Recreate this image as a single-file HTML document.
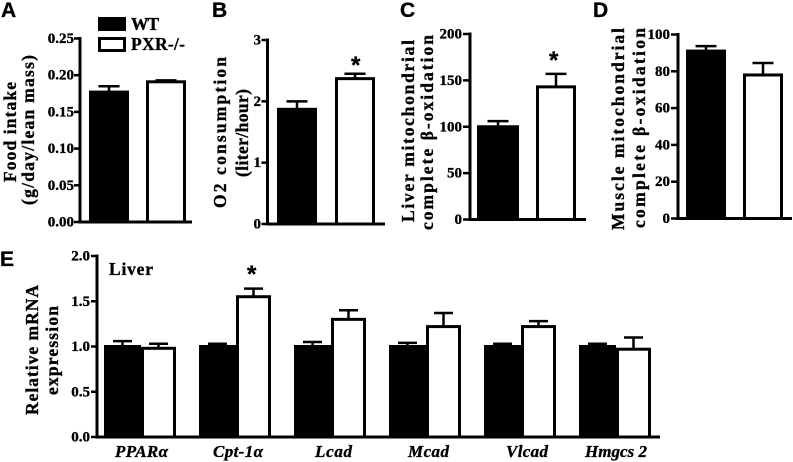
<!DOCTYPE html>
<html lang="en">
<head>
<meta charset="utf-8">
<title>PXR knockout metabolic bar charts</title>
<style>
html,body{margin:0;padding:0;background:#fff;width:793px;height:462px;overflow:hidden}
svg{display:block}
text{font-family:"Liberation Serif",serif;font-weight:bold;fill:#000;stroke:#000;stroke-width:.35px}
.letter{font-family:"Liberation Sans",sans-serif;font-size:21px}
.tick{font-size:15px}
.lab{font-size:17.5px}
.xl{font-size:17px;font-style:italic}
.star{font-size:24px;font-family:"Liberation Sans",sans-serif}
</style>
</head>
<body>
<svg id="fig" width="793" height="462" viewBox="0 0 793 462" xmlns="http://www.w3.org/2000/svg">
  <text class="letter" x="1" y="17">A</text>
  <text class="letter" x="212" y="17">B</text>
  <text class="letter" x="400" y="17">C</text>
  <text class="letter" x="593" y="17">D</text>
  <text class="letter" x="0" y="266">E</text>

  <rect x="98" y="17" width="28" height="14" fill="#000"/>
  <rect x="99.5" y="38.5" width="25" height="12" fill="#fff" stroke="#000" stroke-width="3"/>
  <text class="lab" x="131" y="30" textLength="28" lengthAdjust="spacing">WT</text>
  <text class="lab" x="131" y="50" textLength="54" lengthAdjust="spacing">PXR-/-</text>

  <text class="lab" transform="translate(16,182) rotate(-90)" textLength="100" lengthAdjust="spacing">Food intake</text>
  <text class="lab" transform="translate(34,205) rotate(-90)" textLength="150" lengthAdjust="spacing">(g/day/lean mass)</text>
  <text class="lab" transform="translate(226,208) rotate(-90)" textLength="151" lengthAdjust="spacing">O2 consumption</text>
  <text class="lab" transform="translate(248,177) rotate(-90)" textLength="88" lengthAdjust="spacing">(liter/hour)</text>
  <text class="lab" transform="translate(414,222) rotate(-90)" textLength="182" lengthAdjust="spacing">Liver mitochondrial</text>
  <text class="lab" transform="translate(433,230) rotate(-90)" textLength="195" lengthAdjust="spacing">complete β-oxidation</text>
  <text class="lab" transform="translate(624,230) rotate(-90)" textLength="202" lengthAdjust="spacing">Muscle mitochondrial</text>
  <text class="lab" transform="translate(645,228) rotate(-90)" textLength="200" lengthAdjust="spacing">complete β-oxidation</text>
  <text class="lab" transform="translate(38,415) rotate(-90)" textLength="130" lengthAdjust="spacing">Relative mRNA</text>
  <text class="lab" transform="translate(58,395) rotate(-90)" textLength="89" lengthAdjust="spacing">expression</text>
  <text class="lab" x="109" y="275" textLength="44" lengthAdjust="spacing">Liver</text>

  <text class="xl" x="115" y="457" textLength="53" lengthAdjust="spacing">PPARα</text>
  <text class="xl" x="213" y="457" textLength="50" lengthAdjust="spacing">Cpt-1α</text>
  <text class="xl" x="315" y="457" textLength="37" lengthAdjust="spacing">Lcad</text>
  <text class="xl" x="408" y="457" textLength="41" lengthAdjust="spacing">Mcad</text>
  <text class="xl" x="506" y="457" textLength="42" lengthAdjust="spacing">Vlcad</text>
  <text class="xl" x="585" y="457" textLength="62" lengthAdjust="spacing">Hmgcs 2</text>

  <text class="star" x="351" y="73">*</text>
  <text class="star" x="549" y="68">*</text>
  <text class="star" x="247" y="282">*</text>
</svg>
<script>
// Panel A: food intake
const aTicks = [0, 0.05, 0.10, 0.15, 0.20, 0.25];
const aTickLabels = ["0.00", "0.05", "0.10", "0.15", "0.20", "0.25"];
const aMeans = [0.177, 0.191];
const aErrors = [0.008, 0.002];
// Panel B: O2 consumption
const bTicks = [0, 1, 2, 3];
const bTickLabels = ["0", "1", "2", "3"];
const bMeans = [1.87, 2.37];
const bErrors = [0.13, 0.08];
// Panel C: liver oxidation
const cTicks = [0, 50, 100, 150, 200];
const cTickLabels = ["0", "50", "100", "150", "200"];
const cMeans = [100, 143];
const cErrors = [6, 14];
// Panel D: muscle oxidation
const dTicks = [0, 20, 40, 60, 80, 100];
const dTickLabels = ["0", "20", "40", "60", "80", "100"];
const dMeans = [91, 78];
const dErrors = [2.7, 6.5];
// Panel E: mRNA expression, gene order PPARa, Cpt-1a, Lcad, Mcad, Vlcad, Hmgcs2
const eTicks = [0, 0.5, 1.0, 1.5, 2.0];
const eTickLabels = ["0.0", "0.5", "1.0", "1.5", "2.0"];
const eWtMeans = [1.0, 1.0, 1.0, 1.0, 1.0, 1.0];
const eWtErrors = [0.06, 0.03, 0.05, 0.04, 0.03, 0.03];
const ePxrMeans = [0.98, 1.55, 1.3, 1.22, 1.22, 0.97];
const ePxrErrors = [0.05, 0.09, 0.1, 0.15, 0.06, 0.13];

const svg = document.getElementById('fig');
const NS = 'http://www.w3.org/2000/svg';
function make(tag, props) {
  const node = document.createElementNS(NS, tag);
  for (const k in props) node.setAttribute(k, props[k]);
  svg.appendChild(node);
  return node;
}
function hLine(x1, x2, y, w) {
  return make('line', {x1: x1, x2: x2, y1: y, y2: y, stroke: '#000', 'stroke-width': w});
}
function drawAxes(id, ax, ticks, labels) {
  const scale = v => ax.y0 - (v / ticks[ticks.length - 1]) * (ax.y0 - ax.yTop);
  const yAxis = make('line', {x1: ax.x, x2: ax.x, y1: ax.yTop - 1.5, y2: ax.y0 + 1.5, stroke: '#000', 'stroke-width': 3});
  
  
  const xAxis = hLine(ax.x, ax.xEnd, ax.y0, 3);
  
  
  ticks.forEach((t, i) => {
    const tickMark = hLine(ax.x - ax.tickLen, ax.x, scale(t), 2.5);
    
    
    const label = make('text', {class: 'tick', x: ax.labelEnd, y: scale(t) + 4.5, 'text-anchor': 'end'});
    label.textContent = labels[i];
    
    
  });
  return scale;
}
function drawBar(id, scale, x1, x2, mean, err, filled, y0, capW) {
  const cx = (x1 + x2) / 2;
  const top = scale(mean);
  const tipY = scale(mean + err);
  const stem = make('line', {x1: cx, x2: cx, y1: top, y2: tipY, stroke: '#000', 'stroke-width': 2.5});
  
  
  const cap = hLine(cx - capW / 2, cx + capW / 2, tipY, 2.5);
  
  
  const bar = make('rect', {x: x1 + 1.5, y: top, width: x2 - x1 - 3, height: y0 - top, fill: filled ? '#000' : '#fff', stroke: '#000', 'stroke-width': 3});
  
  
}
function drawPair(id, ax, ticks, labels, means, errors, slots) {
  const scale = drawAxes(id, ax, ticks, labels);
  means.forEach((m, i) => {
    drawBar(id + '-' + (i === 0 ? 'wt' : 'pxr'), scale, slots[i][0], slots[i][1], m, errors[i], i === 0, ax.y0, 21);
  });
}
drawPair('a', {x: 80, yTop: 38.5, y0: 222, xEnd: 192, tickLen: 6, labelEnd: 74}, aTicks, aTickLabels, aMeans, aErrors, [[89, 129], [146, 186]]);
drawPair('b', {x: 267.5, yTop: 40, y0: 224, xEnd: 385, tickLen: 6, labelEnd: 261}, bTicks, bTickLabels, bMeans, bErrors, [[277, 317], [335, 375]]);
drawPair('c', {x: 470, yTop: 34, y0: 219.5, xEnd: 586, tickLen: 7, labelEnd: 462}, cTicks, cTickLabels, cMeans, cErrors, [[477, 519], [536, 576]]);
drawPair('d', {x: 678, yTop: 34.5, y0: 218.5, xEnd: 792, tickLen: 7, labelEnd: 670}, dTicks, dTickLabels, dMeans, dErrors, [[686, 726], [743, 783]]);

const eAx = {x: 97, yTop: 256, y0: 437, xEnd: 660, tickLen: 6, labelEnd: 90};
const eScale = drawAxes('e', eAx, eTicks, eTickLabels);
const eGroupStep = 95;
eWtMeans.forEach((m, i) => {
  const g = 104 + i * eGroupStep;
  drawBar('e-wt-' + i, eScale, g, g + 37, m, eWtErrors[i], true, eAx.y0, 19);
  drawBar('e-pxr-' + i, eScale, g + 37, g + 72, ePxrMeans[i], ePxrErrors[i], false, eAx.y0, 19);
});
</script>
</body>
</html>
